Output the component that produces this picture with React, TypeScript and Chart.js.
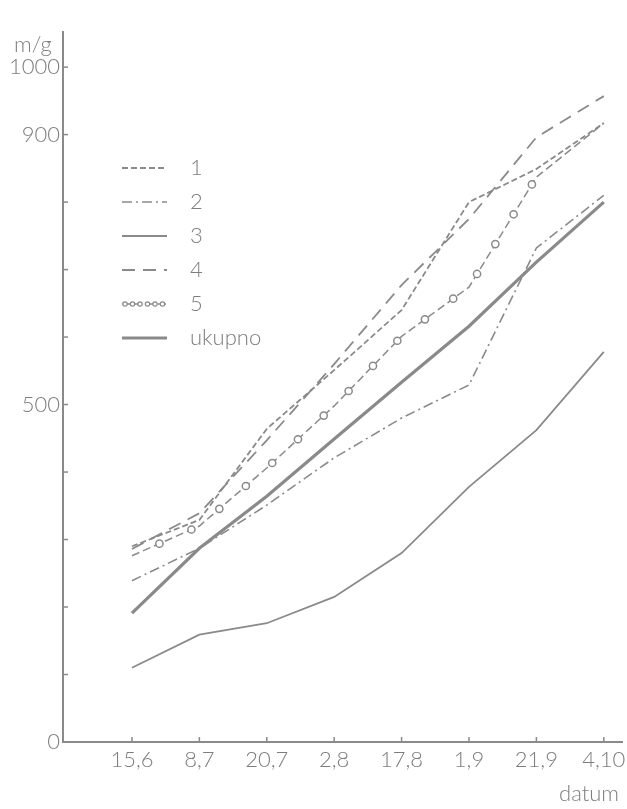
import React, { useEffect, useRef } from 'react';
import { Chart, registerables } from 'chart.js';

Chart.register(...registerables);

// ---- data ----
const categories = ['15,6', '8,7', '20,7', '2,8', '17,8', '1,9', '21,9', '4,10'];
const series1 = [290, 329, 464, 551, 640, 800, 849, 917];
const series2 = [239, 287, 351, 421, 480, 529, 732, 810];
const series3 = [110, 159, 176, 215, 280, 378, 462, 578];
const series4 = [286, 339, 447, 560, 677, 775, 896, 957];
const series5 = [276, 320, 406, 498, 601, 674, 837, 917];
const ukupno = [191, 287, 364, 449, 533, 616, 711, 800];
const seriesNames = ['1', '2', '3', '4', '5', 'ukupno'];
const yTickValues = [0, 100, 200, 300, 400, 500, 600, 700, 800, 900, 1000];
const yLabelled = [0, 500, 900, 1000];
const yUnit = 'm/g';
const xTitle = 'datum';

const LINE = '#8a8a8a';
const TEXT = '#7d7d7d';
const FONT = "Lato, 'DejaVu Sans', sans-serif";
const FSIZE = 22;

const toPts = (arr: number[]) => arr.map((v, i) => ({ x: i, y: v }));

const decorPlugin = {
  id: 'decor',
  afterDatasetsDraw(chart: any) {
    const ctx = chart.ctx as CanvasRenderingContext2D;
    // circles along series 5
    const meta = chart.getDatasetMeta(4);
    const pts = meta.data.map((p: any) => ({ x: p.x, y: p.y }));
    ctx.save();
    ctx.setLineDash([]);
    ctx.strokeStyle = LINE;
    ctx.lineWidth = 1.5;
    ctx.fillStyle = '#ffffff';
    let next = 30;
    let acc = 0;
    const lastIdx = Math.min(pts.length - 1, 6);
    for (let i = 0; i < lastIdx; i++) {
      const a = pts[i];
      const b = pts[i + 1];
      const len = Math.hypot(b.x - a.x, b.y - a.y);
      while (next <= acc + len) {
        const t = (next - acc) / len;
        const cx = a.x + t * (b.x - a.x);
        const cy = a.y + t * (b.y - a.y);
        ctx.beginPath();
        ctx.arc(cx, cy, 3.6, 0, Math.PI * 2);
        ctx.fill();
        ctx.stroke();
        next += 35;
      }
      acc += len;
    }
    ctx.restore();
  },
  afterDraw(chart: any) {
    const ctx = chart.ctx as CanvasRenderingContext2D;
    const xs = chart.scales.x;
    const ys = chart.scales.y;
    const area = chart.chartArea;
    ctx.save();
    // inner tick marks
    ctx.strokeStyle = LINE;
    ctx.lineWidth = 1.5;
    ctx.setLineDash([]);
    ys.ticks.forEach((t: any) => {
      if (t.value === 0) return;
      const y = ys.getPixelForValue(t.value);
      ctx.beginPath();
      ctx.moveTo(area.left, y);
      ctx.lineTo(area.left + 5, y);
      ctx.stroke();
    });
    xs.ticks.forEach((t: any) => {
      const x = xs.getPixelForValue(t.value);
      ctx.beginPath();
      ctx.moveTo(x, area.bottom);
      ctx.lineTo(x, area.bottom - 5);
      ctx.stroke();
    });
    // axis titles
    ctx.fillStyle = TEXT;
    ctx.font = `300 ${FSIZE}px ${FONT}`;
    ctx.textBaseline = 'middle';
    ctx.textAlign = 'left';
    ctx.fillText(yUnit, 14, 45);
    ctx.textAlign = 'right';
    ctx.fillText(xTitle, 619, 794);
    // legend
    const x0 = 122;
    const x1 = 167;
    chart.data.datasets.forEach((ds: any, i: number) => {
      const y = 168 + i * 34;
      ctx.strokeStyle = LINE;
      ctx.lineWidth = ds.borderWidth;
      ctx.setLineDash(ds.borderDash || []);
      ctx.beginPath();
      ctx.moveTo(x0, y);
      ctx.lineTo(x1, y);
      ctx.stroke();
      if (i === 4) {
        ctx.setLineDash([]);
        ctx.lineWidth = 1.2;
        ctx.fillStyle = '#ffffff';
        for (let cx = x0 + 3; cx <= x1 - 2; cx += 7.5) {
          ctx.beginPath();
          ctx.arc(cx, y, 2.2, 0, Math.PI * 2);
          ctx.fill();
          ctx.stroke();
        }
      }
      ctx.setLineDash([]);
      ctx.fillStyle = TEXT;
      ctx.textAlign = 'left';
      ctx.fillText(ds.label, 190, y);
    });
    ctx.restore();
  },
};

export default function App() {
  const ref = useRef<HTMLCanvasElement | null>(null);

  useEffect(() => {
    if (!ref.current) return;
    const styles = [
      { borderDash: [6, 3], borderWidth: 1.8 },
      { borderDash: [10, 4, 2, 4], borderWidth: 1.6 },
      { borderDash: [], borderWidth: 1.8 },
      { borderDash: [13, 8], borderWidth: 1.8 },
      { borderDash: [8, 4], borderWidth: 1.5 },
      { borderDash: [], borderWidth: 3.2 },
    ];
    const all = [series1, series2, series3, series4, series5, ukupno];
    const chart = new Chart(ref.current, {
      type: 'line',
      data: {
        datasets: all.map((s, i) => ({
          label: seriesNames[i],
          data: toPts(s),
          borderColor: LINE,
          backgroundColor: LINE,
          borderWidth: styles[i].borderWidth,
          borderDash: styles[i].borderDash,
          pointRadius: 0,
          tension: 0,
          fill: false,
        })),
      },
      options: {
        animation: false,
        responsive: false,
        devicePixelRatio: 1,
        layout: { padding: { top: 32, right: 5, left: 0, bottom: 0 } },
        plugins: { legend: { display: false }, tooltip: { enabled: false } },
        scales: {
          x: {
            type: 'linear',
            min: -1.023,
            max: 7.27,
            afterBuildTicks: (scale: any) => {
              scale.ticks = categories.map((_, i) => ({ value: i }));
            },
            afterFit: (scale: any) => {
              scale.height = 67;
              scale.paddingLeft = 0;
              scale.paddingRight = 0;
            },
            grid: { display: false, drawTicks: false },
            border: { display: true, color: LINE, width: 2 },
            ticks: {
              autoSkip: false,
              maxRotation: 0,
              padding: 5,
              color: TEXT,
              font: { family: FONT, size: FSIZE, weight: '300' as any },
              callback: (v: any) => categories[v] ?? '',
            },
          },
          y: {
            type: 'linear',
            min: 0,
            max: 1052,
            afterBuildTicks: (scale: any) => {
              scale.ticks = yTickValues.map((v) => ({ value: v }));
            },
            afterFit: (scale: any) => {
              scale.width = 63;
              scale.paddingTop = 0;
              scale.paddingBottom = 0;
            },
            grid: { display: false, drawTicks: false },
            border: { display: true, color: LINE, width: 2 },
            ticks: {
              autoSkip: false,
              padding: 3,
              color: TEXT,
              font: { family: FONT, size: FSIZE, weight: '300' as any },
              callback: (v: any) => (yLabelled.includes(v) ? String(v) : ''),
            },
          },
        },
      },
      plugins: [decorPlugin],
    });
    return () => chart.destroy();
  }, []);

  return (
    <div style={{ position: 'absolute', left: 0, top: 0, width: 627, height: 809, background: '#fff' }}>
      <canvas ref={ref} width={627} height={809} style={{ width: 627, height: 809, display: 'block' }} />
    </div>
  );
}
